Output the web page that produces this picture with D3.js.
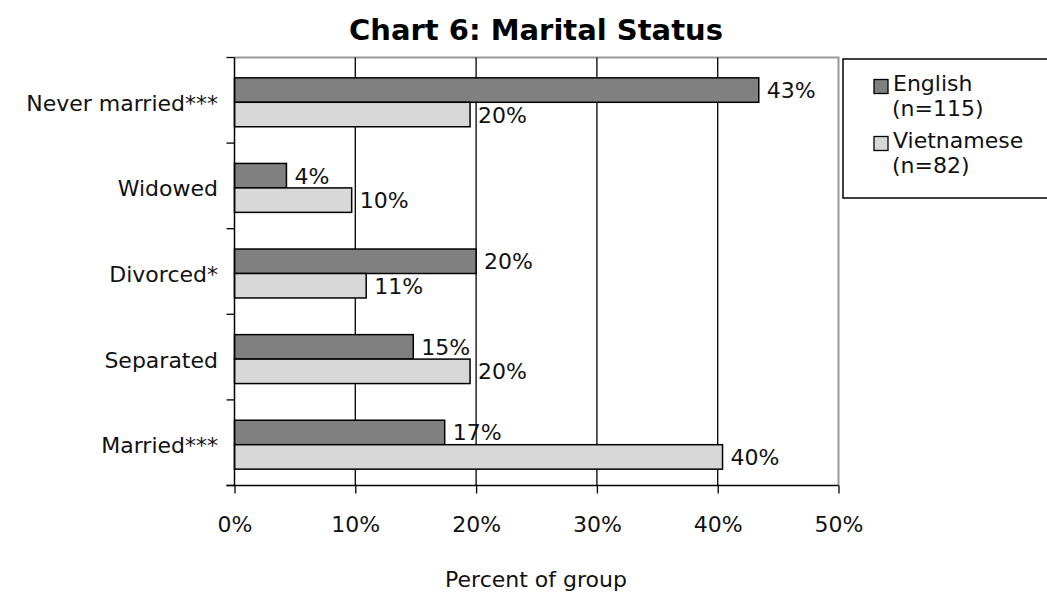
<!DOCTYPE html>
<html>
<head>
<meta charset="utf-8">
<script src="https://cdn.jsdelivr.net/npm/d3@7"></script>
<style>
  body { margin: 0; background: #fff; }
  svg { display: block; font-family: "DejaVu Sans", sans-serif; }
</style>
</head>
<body>
<svg id="chart" width="1047" height="593"></svg>
<script>
// **** Data
const categories = ["Never married***", "Widowed", "Divorced*", "Separated", "Married***"];
const series = ["English", "Vietnamese"];
const seriesNotes = ["(n=115)", "(n=82)"];
const englishValues = [43.4, 4.3, 20.0, 14.8, 17.4];
const vietnameseValues = [19.5, 9.7, 10.9, 19.5, 40.4];
const xTicks = [0, 10, 20, 30, 40, 50];
const colors = ["#808080", "#d8d8d8"];

const rows = categories.map((c, i) => ({
  category: c,
  values: [englishValues[i], vietnameseValues[i]]
}));

// **** Layout
const svg = d3.select("#chart");
const plot = { left: 234.5, right: 838.5, top: 57.5, bottom: 485.5 };
const fontSize = "22px";

const x = d3.scaleLinear().domain([0, 50]).range([plot.left, plot.right]);
const y0 = d3.scaleBand().domain(categories).range([plot.top, plot.bottom]);
const y1 = d3
  .scaleBand()
  .domain(series)
  .range([2, y0.bandwidth() + 2])
  .paddingOuter(0.75);

// **** Title
svg.append("text")
  .attr("x", 536)
  .attr("y", 40)
  .attr("text-anchor", "middle")
  .style("font-size", "29px")
  .style("font-weight", "bold")
  .text("Chart 6: Marital Status");

// **** Plot border (gray top + right)
svg.append("path")
  .attr("d", `M${plot.left},${plot.top}H${plot.right}V${plot.bottom}`)
  .attr("fill", "none")
  .attr("stroke", "#999")
  .attr("stroke-width", 2);

// **** Gridlines
svg.append("g")
  .selectAll("line")
  .data(xTicks.filter(d => d > 0 && d < 50))
  .join("line")
  .attr("x1", d => x(d))
  .attr("x2", d => x(d))
  .attr("y1", plot.top)
  .attr("y2", plot.bottom)
  .attr("stroke", "#000")
  .attr("stroke-width", 1.3);

// **** Bars
const groups = svg.append("g")
  .selectAll("g")
  .data(rows)
  .join("g")
  .attr("transform", d => `translate(0,${y0(d.category)})`);

groups.selectAll("rect")
  .data(d => d.values.map((v, i) => ({ key: series[i], value: v, i })))
  .join("rect")
  .attr("x", x(0))
  .attr("y", d => y1(d.key))
  .attr("width", d => x(d.value) - x(0))
  .attr("height", y1.bandwidth())
  .attr("fill", d => colors[d.i])
  .attr("stroke", "#000")
  .attr("stroke-width", 1.5);

groups.selectAll("text")
  .data(d => d.values.map((v, i) => ({ key: series[i], value: v, i })))
  .join("text")
  .attr("x", d => x(d.value) + 8)
  .attr("y", d => y1(d.key) + y1.bandwidth() / 2 + 8)
  .style("font-size", fontSize)
  .attr("fill", "#111")
  .text(d => Math.round(d.value) + "%");

// **** Y axis
svg.append("g")
  .selectAll("line")
  .data(d3.range(categories.length + 1))
  .join("line")
  .attr("x1", plot.left - 8)
  .attr("x2", plot.left)
  .attr("y1", i => plot.top + i * y0.step())
  .attr("y2", i => plot.top + i * y0.step())
  .attr("stroke", "#000")
  .attr("stroke-width", 1.3);
svg.append("line")
  .attr("x1", plot.left).attr("x2", plot.left)
  .attr("y1", plot.top).attr("y2", plot.bottom)
  .attr("stroke", "#000").attr("stroke-width", 1.5);

svg.append("g")
  .selectAll("text")
  .data(categories)
  .join("text")
  .attr("x", 218)
  .attr("y", d => y0(d) + y0.bandwidth() / 2 + 10.5)
  .attr("text-anchor", "end")
  .style("font-size", fontSize)
  .attr("fill", "#111")
  .text(d => d);

// **** X axis
const xAxis = d3.axisBottom(x)
  .tickValues(xTicks)
  .tickSize(8)
  .tickFormat(d => d + "%");
const xg = svg.append("g")
  .attr("transform", `translate(0,${plot.bottom})`)
  .call(xAxis);
xg.select(".domain").attr("d", `M${plot.left - 8},0H${plot.right}`).attr("stroke-width", 1.5);
xg.selectAll(".tick line").attr("stroke-width", 1.3);
xg.selectAll(".tick text")
  .attr("y", 46)
  .attr("dy", null)
  .style("font-size", fontSize)
  .style("font-family", "DejaVu Sans, sans-serif")
  .attr("fill", "#111");

svg.append("text")
  .attr("x", 536)
  .attr("y", 587)
  .attr("text-anchor", "middle")
  .style("font-size", fontSize)
  .attr("fill", "#111")
  .text("Percent of group");

// **** Legend
const legend = svg.append("g");
legend.append("rect")
  .attr("x", 843)
  .attr("y", 59)
  .attr("width", 220)
  .attr("height", 139)
  .attr("fill", "#fff")
  .attr("stroke", "#000")
  .attr("stroke-width", 1.5);

const items = legend.selectAll("g")
  .data(series)
  .join("g")
  .attr("transform", (d, i) => `translate(0,${i * 57})`);

items.append("rect")
  .attr("x", 874)
  .attr("y", 79.5)
  .attr("width", 14)
  .attr("height", 14)
  .attr("fill", (d, i) => colors[i])
  .attr("stroke", "#000")
  .attr("stroke-width", 1.3);

items.append("text")
  .attr("x", 893)
  .attr("y", 91)
  .style("font-size", fontSize)
  .attr("fill", "#111")
  .text(d => d);

items.append("text")
  .attr("x", 892)
  .attr("y", 116)
  .style("font-size", fontSize)
  .attr("fill", "#111")
  .text((d, i) => seriesNotes[i]);
</script>
</body>
</html>
